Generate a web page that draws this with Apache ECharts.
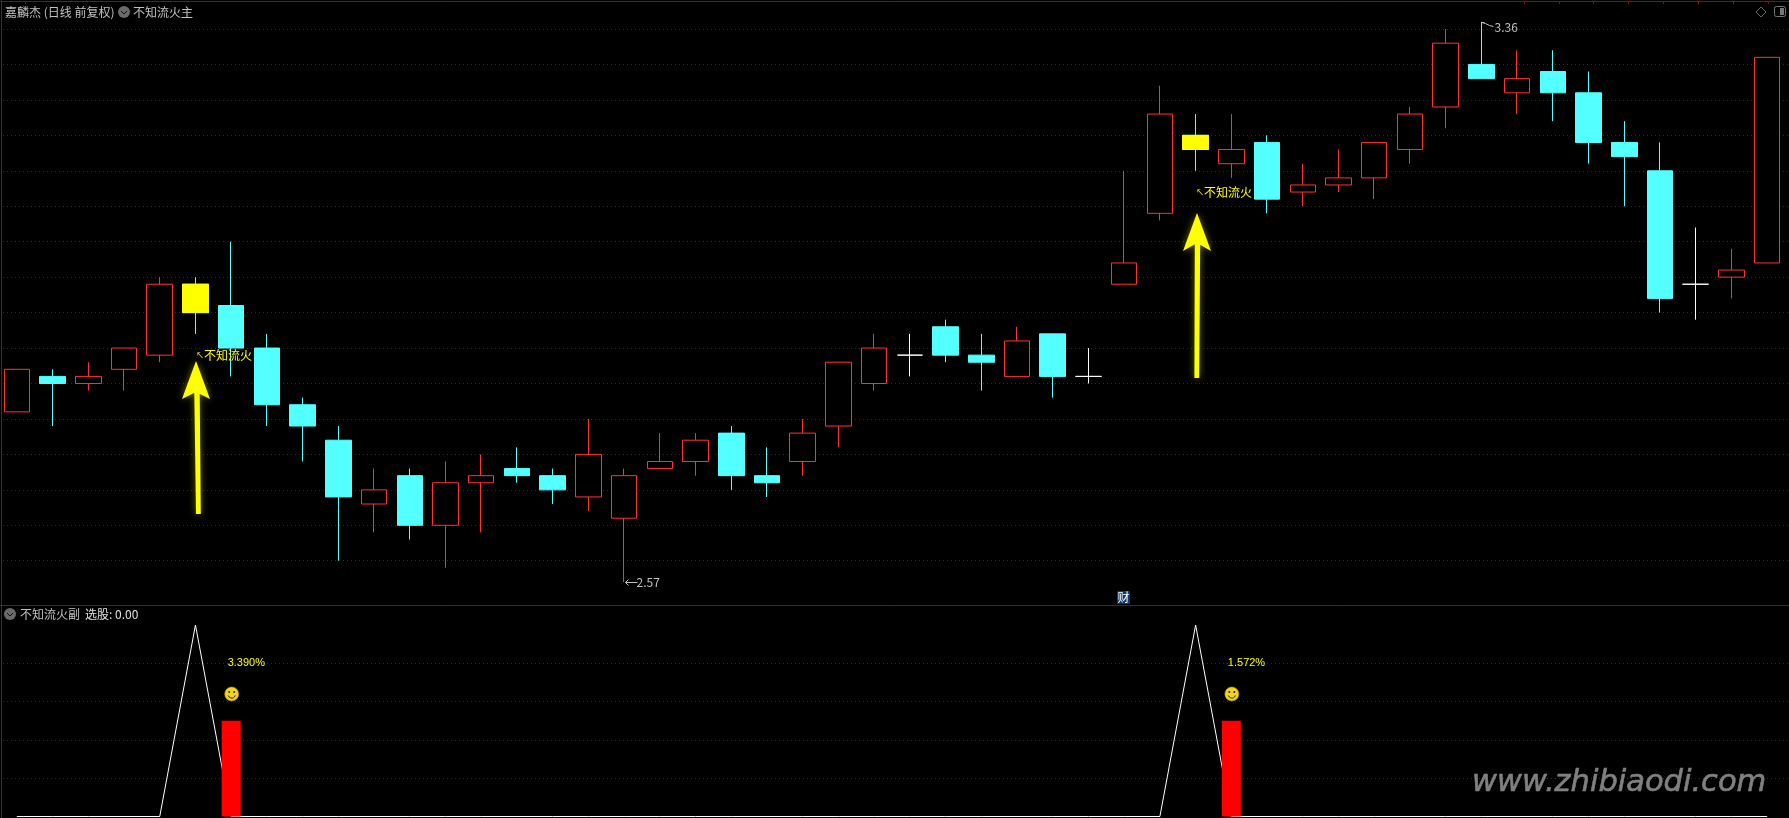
<!DOCTYPE html>
<html>
<head>
<meta charset="utf-8">
<title>不知流火</title>
<style>
  html, body { margin: 0; padding: 0; background: #000; overflow: hidden; }
  #chart { width: 1789px; height: 818px; }
</style>
<script src="https://cdn.jsdelivr.net/npm/echarts@6/dist/echarts.min.js"></script>
</head>
<body>
<div id="chart"></div>
<script>
// prices, one entry per trading day
const openPrices = [2.81, 2.86, 2.85, 2.87, 2.89, 2.99, 2.96, 2.90, 2.82, 2.77, 2.68, 2.72, 2.65, 2.71, 2.73, 2.72, 2.69, 2.66, 2.73, 2.74, 2.78, 2.72, 2.74, 2.79, 2.85, 2.89, 2.93, 2.89, 2.86, 2.92, 2.86, 2.99, 3.09, 3.20, 3.16, 3.19, 3.12, 3.13, 3.14, 3.18, 3.24, 3.30, 3.26, 3.29, 3.26, 3.19, 3.15, 2.99, 3.00, 3.02]
const closePrices = [2.87, 2.85, 2.86, 2.90, 2.99, 2.95, 2.90, 2.82, 2.79, 2.69, 2.70, 2.65, 2.71, 2.72, 2.72, 2.70, 2.75, 2.72, 2.74, 2.77, 2.72, 2.71, 2.78, 2.88, 2.90, 2.89, 2.89, 2.88, 2.91, 2.86, 2.86, 3.02, 3.23, 3.18, 3.18, 3.11, 3.13, 3.14, 3.19, 3.23, 3.33, 3.28, 3.28, 3.26, 3.19, 3.17, 2.97, 2.99, 3.01, 3.31]
const lowPrices = [2.81, 2.79, 2.84, 2.84, 2.88, 2.92, 2.86, 2.79, 2.74, 2.60, 2.64, 2.63, 2.59, 2.64, 2.71, 2.68, 2.67, 2.57, 2.73, 2.72, 2.70, 2.69, 2.72, 2.76, 2.84, 2.86, 2.88, 2.84, 2.86, 2.83, 2.85, 2.99, 3.08, 3.15, 3.14, 3.09, 3.10, 3.12, 3.11, 3.16, 3.21, 3.28, 3.23, 3.22, 3.16, 3.10, 2.95, 2.94, 2.97, 3.02]
const highPrices = [2.87, 2.87, 2.88, 2.90, 3.00, 3.00, 3.05, 2.92, 2.83, 2.79, 2.73, 2.73, 2.74, 2.75, 2.76, 2.73, 2.80, 2.73, 2.78, 2.78, 2.79, 2.76, 2.80, 2.88, 2.92, 2.92, 2.94, 2.92, 2.93, 2.92, 2.90, 3.15, 3.27, 3.23, 3.23, 3.20, 3.16, 3.18, 3.19, 3.24, 3.35, 3.36, 3.32, 3.32, 3.29, 3.22, 3.19, 3.07, 3.04, 3.31]

// days marked by the indicator
const signalDays = [5, 33]
const signalNotePrices = [2.89, 3.12]
const signalNote = '{a|↖}{b|不知流火}'

// lower panel
const pulseLine = [0, 0, 0, 0, 0, 100, 0, 0, 0, 0, 0, 0, 0, 0, 0, 0, 0, 0, 0, 0, 0, 0, 0, 0, 0, 0, 0, 0, 0, 0, 0, 0, 0, 100, 0, 0, 0, 0, 0, 0, 0, 0, 0, 0, 0, 0, 0, 0, 0, 0]
const barDays = [6, 34]
const barValues = [50, 50]
const gainLabels = ['3.390%', '1.572%']
const gainLabelValue = 80
const smileValue = 64

const RED = '#ff3232'
const CYAN = '#54ffff'
const YELLOW = '#ffff00'
const GRID_RED = '#960000'
const FRAME_RED = '#a80000'
const GRAY = '#c0c0c0'
const FONT = '"Noto Sans CJK SC", sans-serif'

const dayCount = openPrices.length
const bandWidth = 35.72
// one spare slot so the dotted lines run to the right edge
const categories = openPrices.map((_, i) => String(i + 1)).concat([''])

const candleData = openPrices.map((open, i) => {
  const item = { value: [open, closePrices[i], lowPrices[i], highPrices[i]] }
  if (open === closePrices[i]) {
    item.itemStyle = { borderColor: '#fff', borderColor0: '#fff', borderColorDoji: '#fff' }
  }
  return item
})

const signalBodies = openPrices.map((open, i) => {
  if (!signalDays.includes(i)) return '-'
  return [open, closePrices[i], closePrices[i], open]
})

const barData = openPrices.map((_, i) => {
  const at = barDays.indexOf(i)
  return at === -1 ? '-' : barValues[at]
})

const highDay = highPrices.indexOf(Math.max(...highPrices))
const lowDay = lowPrices.indexOf(Math.min(...lowPrices))

const renderPriceNote = (params, api) => {
  const p = api.coord([api.value(0), api.value(1)])
  const isHigh = api.value(2) === 1
  const x = Math.round(p[0]) + 0.5
  const y = Math.round(p[1]) + 0.5
  const points = isHigh
    ? [[x, y], [x + 4, y + 1], [x + 8, y + 3], [x + 12, y + 4]]
    : [[x + 13, y], [x + 1, y]]
  const head = isHigh
    ? [[x + 3, y - 0], [x, y], [x, y + 3]]
    : [[x + 4, y - 3], [x + 1, y], [x + 4, y + 3]]
  return {
    type: 'group',
    children: [
      { type: 'polyline', shape: { points }, style: { stroke: GRAY, fill: null, lineWidth: 1 } },
      { type: 'polyline', shape: { points: head }, style: { stroke: GRAY, fill: null, lineWidth: 1 } },
      {
        type: 'text',
        x: x + (isHigh ? 13 : 12),
        y: y + (isHigh ? 5 : 0),
        style: {
          text: api.value(1).toFixed(2),
          fill: GRAY,
          font: '12px ' + FONT,
          verticalAlign: 'middle'
        }
      }
    ]
  }
}

const renderSmile = (params, api) => {
  const p = api.coord([api.value(0), api.value(1)])
  return {
    type: 'group',
    x: p[0] + 0.5,
    y: p[1],
    children: [
      { type: 'circle', shape: { cx: 0, cy: 0, r: 7 }, style: { fill: '#f4d31c', stroke: '#a88a10', lineWidth: 0.6 } },
      { type: 'circle', shape: { cx: -2.5, cy: -2, r: 1 }, style: { fill: '#222' } },
      { type: 'circle', shape: { cx: 2.5, cy: -2, r: 1 }, style: { fill: '#222' } },
      { type: 'arc', shape: { cx: 0, cy: 0.5, r: 3.6, startAngle: 0.3, endAngle: Math.PI - 0.3 }, style: { stroke: '#222', fill: null, lineWidth: 1 } }
    ]
  }
}

const hLine = (y, color) => ({
  type: 'line',
  z: 20,
  shape: { x1: 0, y1: y, x2: 1789, y2: y },
  style: { stroke: color, lineWidth: 1 }
})

const topTick = x => ({
  type: 'line',
  z: 20,
  shape: { x1: x + 0.5, y1: 1, x2: x + 0.5, y2: 4 },
  style: { stroke: FRAME_RED, lineWidth: 1 }
})

const label = (text, x, y, color) => ({
  type: 'text',
  z: 20,
  x,
  y,
  style: { text, fill: color, font: '12px ' + FONT, verticalAlign: 'middle' }
})

const menuIcon = (x, y) => ({
  type: 'group',
  z: 20,
  x,
  y,
  children: [
    { type: 'circle', shape: { cx: 0, cy: 0, r: 6 }, style: { fill: '#6a6a6a' } },
    { type: 'polyline', shape: { points: [[-3, -1], [0, 2], [3, -1]] }, style: { stroke: '#111', fill: null, lineWidth: 1 } }
  ]
})

const arrow = (tip, wingY, notchY, halfWing, topX, bottomX, bottomY) => ({
  type: 'polygon',
  z: 15,
  shape: {
    points: [
      [tip[0], tip[1]],
      [tip[0] + halfWing, wingY],
      [tip[0], notchY],
      [topX + 2.7, notchY],
      [bottomX + 2.4, bottomY],
      [bottomX - 2.4, bottomY],
      [topX - 2.7, notchY],
      [tip[0], notchY],
      [tip[0] - halfWing, wingY]
    ]
  },
  style: { fill: YELLOW, shadowColor: 'rgba(255,255,0,0.45)', shadowBlur: 7 }
})

const graphics = [
  { type: 'rect', z: 19, shape: { x: 0, y: 0, width: 3, height: 818 }, style: { fill: '#000' } },
  { type: 'line', z: 20, shape: { x1: 1.5, y1: 0, x2: 1.5, y2: 818 }, style: { stroke: FRAME_RED, lineWidth: 1 } },
  hLine(1.5, FRAME_RED),
  hLine(605.5, FRAME_RED),
  ...[25, 1524, 1559, 1593, 1628, 1663, 1698, 1733, 1768].map(topTick),
  label('嘉麟杰 (日线 前复权)', 5, 12, GRAY),
  menuIcon(124, 12),
  label('不知流火主', 133, 12, GRAY),
  menuIcon(10, 614),
  label('不知流火副', 20, 614, GRAY),
  label('选股: 0.00', 85, 614, '#e0e0e0'),
  {
    type: 'polygon',
    z: 20,
    shape: { points: [[1761, 7], [1766, 12], [1761, 17], [1756, 12]] },
    style: { fill: null, stroke: '#666', lineWidth: 1 }
  },
  {
    type: 'rect',
    z: 20,
    shape: { x: 1774.5, y: 6.5, width: 11, height: 10, r: 2 },
    style: { fill: null, stroke: '#777', lineWidth: 1 }
  },
  { type: 'rect', z: 20, shape: { x: 1780, y: 8, width: 4, height: 7 }, style: { fill: '#777' } },
  {
    type: 'text',
    z: 20,
    x: 1117,
    y: 591,
    style: {
      text: '财',
      fill: '#fff',
      font: '12px ' + FONT,
      backgroundColor: '#0a3a6e',
      padding: [0, 0.5, 0, 0.5],
      lineHeight: 13
    }
  },
  arrow([196, 361], 399, 392, 14, 197, 198.4, 514),
  arrow([1197, 213], 251, 243, 14, 1197.5, 1196.8, 378),
  {
    type: 'text',
    z: 5,
    x: 1472,
    y: 783,
    style: {
      text: 'www.zhibiaodi.com',
      fill: '#808080',
      stroke: '#808080',
      lineWidth: 0.6,
      font: 'italic 30.5px "DejaVu Sans", sans-serif',
      verticalAlign: 'middle',
      shadowColor: 'rgba(255,255,255,0.25)',
      shadowBlur: 6,
      shadowOffsetY: 3
    }
  }
]

const chart = echarts.init(document.getElementById('chart'))

chart.setOption({
  animation: false,
  backgroundColor: '#000',
  grid: [
    { left: -1, width: bandWidth * (dayCount + 1), top: 14.8, height: 581.4, outerBoundsMode: 'none' },
    { left: -1, width: bandWidth * (dayCount + 1), top: 625, height: 191.5, outerBoundsMode: 'none' }
  ],
  xAxis: [
    { type: 'category', gridIndex: 0, data: categories, show: false },
    { type: 'category', gridIndex: 1, data: categories, show: false }
  ],
  yAxis: [
    {
      type: 'value',
      gridIndex: 0,
      min: 2.55,
      max: 3.37,
      interval: 0.05,
      axisLine: { show: false },
      axisTick: { show: false },
      axisLabel: { show: false },
      splitLine: { showMinLine: false, showMaxLine: false, lineStyle: { color: GRID_RED, type: [1, 3], width: 1 } }
    },
    {
      type: 'value',
      gridIndex: 1,
      min: 0,
      max: 100,
      interval: 20,
      axisLine: { show: false },
      axisTick: { show: false },
      axisLabel: { show: false },
      splitLine: { showMinLine: false, showMaxLine: false, lineStyle: { color: GRID_RED, type: [1, 3], width: 1 } }
    }
  ],
  series: [
    {
      name: '不知流火主',
      type: 'candlestick',
      xAxisIndex: 0,
      yAxisIndex: 0,
      barWidth: 26,
      data: candleData,
      itemStyle: {
        color: '#000',
        color0: CYAN,
        borderColor: RED,
        borderColor0: CYAN,
        borderWidth: 1
      }
    },
    {
      name: '信号',
      type: 'candlestick',
      xAxisIndex: 0,
      yAxisIndex: 0,
      barWidth: 26,
      data: signalBodies,
      itemStyle: {
        color: YELLOW,
        color0: YELLOW,
        borderColor: YELLOW,
        borderColor0: YELLOW,
        borderWidth: 1
      }
    },
    {
      name: '不知流火',
      type: 'scatter',
      xAxisIndex: 0,
      yAxisIndex: 0,
      symbolSize: 1,
      itemStyle: { color: 'transparent', opacity: 1 },
      z: 6,
      data: signalDays.map((day, i) => [day, signalNotePrices[i]]),
      label: {
        show: true,
        position: 'right',
        distance: 0,
        formatter: signalNote,
        opacity: 1,
        rich: {
          a: { color: YELLOW, fontFamily: FONT, fontSize: 8 },
          b: { color: YELLOW, fontFamily: FONT, fontSize: 12 }
        }
      }
    },
    {
      name: '高低点',
      type: 'custom',
      xAxisIndex: 0,
      yAxisIndex: 0,
      z: 6,
      clip: false,
      renderItem: renderPriceNote,
      data: [[highDay, highPrices[highDay], 1], [lowDay, lowPrices[lowDay], 0]]
    },
    {
      name: '不知流火副',
      type: 'line',
      xAxisIndex: 1,
      yAxisIndex: 1,
      showSymbol: false,
      clip: false,
      z: 2,
      data: pulseLine,
      lineStyle: { color: '#fff', width: 1 }
    },
    {
      name: '选股',
      type: 'bar',
      xAxisIndex: 1,
      yAxisIndex: 1,
      barWidth: 19,
      z: 3,
      data: barData,
      itemStyle: { color: '#ff0000' }
    },
    {
      name: '涨幅',
      type: 'scatter',
      xAxisIndex: 1,
      yAxisIndex: 1,
      symbolSize: 1,
      itemStyle: { color: 'transparent', opacity: 1 },
      z: 6,
      data: barDays.map((day, i) => ({ value: [day, gainLabelValue], name: gainLabels[i] })),
      label: {
        show: true,
        position: 'right',
        distance: -4,
        formatter: '{b}',
        color: YELLOW,
        opacity: 1,
        fontFamily: '"Liberation Sans", sans-serif',
        fontSize: 11
      }
    },
    {
      name: '笑脸',
      type: 'custom',
      xAxisIndex: 1,
      yAxisIndex: 1,
      z: 6,
      renderItem: renderSmile,
      data: barDays.map(day => [day, smileValue])
    }
  ],
  graphic: graphics
})

window.addEventListener('resize', () => chart.resize())
</script>
</body>
</html>
